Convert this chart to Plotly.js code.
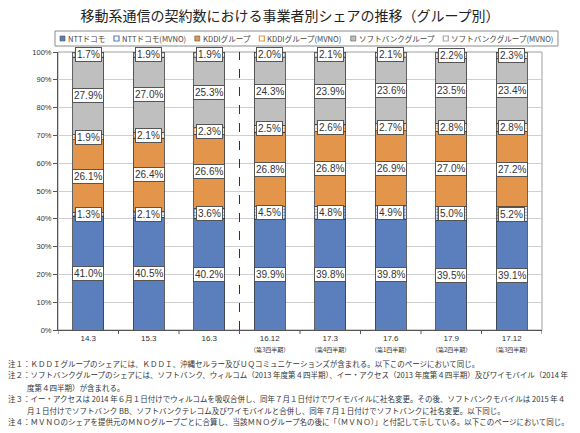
<!DOCTYPE html>
<html>
<head>
<meta charset="utf-8">
<script src="https://cdn.plot.ly/plotly-3.0.1.min.js"></script>
<style>html,body{margin:0;padding:0;background:#fff;}#chart{width:580px;height:433px;}</style>
</head>
<body>
<div id="chart"></div>
<script>
// ---- data ----
const categories = ['14.3','15.3','16.3','16.12','17.3','17.6','17.9','17.12'];
const subLabels = ['','','','（第3四半期）','（第4四半期）','（第1四半期）','（第2四半期）','（第3四半期）'];
const seriesNames = ['NTTドコモ','NTTドコモ(MVNO)','KDDIグループ','KDDIグループ(MVNO)','ソフトバンクグループ','ソフトバンクグループ(MVNO)'];
const ntt      = [41.0, 40.5, 40.2, 39.9, 39.8, 39.8, 39.5, 39.1];
const nttMvno  = [1.3, 2.1, 3.6, 4.5, 4.8, 4.9, 5.0, 5.2];
const kddi     = [26.1, 26.4, 26.6, 26.8, 26.8, 26.9, 27.0, 27.2];
const kddiMvno = [1.9, 2.1, 2.3, 2.5, 2.6, 2.7, 2.8, 2.8];
const sb       = [27.9, 27.0, 25.3, 24.3, 23.9, 23.6, 23.5, 23.4];
const sbMvno   = [1.7, 1.9, 1.9, 2.0, 2.1, 2.1, 2.2, 2.3];
const dividerAfter = '16.3';
const titleText = '移動系通信の契約数における事業者別シェアの推移（グループ別）';
const notes = [
  '注１：ＫＤＤＩグループのシェアには、ＫＤＤＩ、沖縄セルラー及びＵＱコミュニケーションズが含まれる。以下このページにおいて同じ。',
  '注２：ソフトバンクグループのシェアには、ソフトバンク、ウィルコム（2013 年度第４四半期）、イー・アクセス（2013 年度第４四半期）及びワイモバイル（2014 年',
  '度第４四半期）が含まれる。',
  '注３：イー・アクセスは 2014 年６月１日付けでウィルコムを吸収合併し、同年７月１日付けでワイモバイルに社名変更。その後、ソフトバンクモバイルは 2015 年４',
  '月１日付けでソフトバンク BB、ソフトバンクテレコム及びワイモバイルと合併し、同年７月１日付けでソフトバンクに社名変更。以下同じ。',
  '注４：ＭＶＮＯのシェアを提供元のＭＮＯグループごとに合算し、当該ＭＮＯグループ名の後に「（ＭＶＮＯ）」と付記して示している。以下このページにおいて同じ。'
];
const noteIndent = [false, false, true, false, true, false];

// ---- styles ----
const series = [ntt, nttMvno, kddi, kddiMvno, sb, sbMvno];
const colors = ['#5b7ebd','#5b7ebd','#e3964b','#e3964b','#bfbfbf','#a6a6a6'];
const patterned = [false, true, false, true, false, true];

const W = 580, H = 433;
const M = {l:58, r:38, t:52, b:103};
const pw = W - M.l - M.r, ph = H - M.t - M.b;
const fx = px => (px - M.l) / pw;
const fy = py => (H - M.b - py) / ph;

const latin = 'Liberation Sans, Arial, sans-serif';
const jp = 'Noto Sans CJK JP, sans-serif';

const idx = categories.map((c, i) => i);

const traces = series.map((vals, i) => ({
  type: 'bar',
  name: seriesNames[i],
  x: idx,
  y: vals,
  width: 0.52,
  marker: {
    color: patterned[i] ? '#ffffff' : colors[i],
    line: {color: '#3c3c3c', width: 0.8},
    pattern: patterned[i] ? {shape: '.', fgcolor: colors[i], bgcolor: '#ffffff', size: 3, solidity: 0.45} : {shape: ''}
  },
  hoverinfo: 'skip'
}));

// value labels at middle of each segment
const annotations = [];
categories.forEach((c, ci) => {
  let base = 0;
  series.forEach((vals) => {
    const v = vals[ci];
    annotations.push({
      x: ci, y: base + v / 2, xref: 'x', yref: 'y',
      text: v.toFixed(1) + '%', showarrow: false,
      font: {family: latin, size: 10, color: '#333'},
      bgcolor: '#ffffff', bordercolor: '#555', borderwidth: 1, borderpad: 1
    });
    base += v;
  });
});

// notes
const noteY = [363, 375, 387, 398, 410, 421];
notes.forEach((t, i) => {
  annotations.push({
    xref: 'paper', yref: 'paper', x: fx(noteIndent[i] ? 25 : 6), y: fy(noteY[i]),
    xanchor: 'left', yanchor: 'middle', showarrow: false, align: 'left',
    text: t, font: {family: jp, size: 7.5, color: '#333'}
  });
});

// sub labels under x ticks
categories.forEach((c, ci) => {
  if (!subLabels[ci]) return;
  annotations.push({xref: 'x', yref: 'paper', x: ci, y: fy(349), yanchor: 'middle', showarrow: false,
    text: subLabels[ci], font: {family: jp, size: 6, color: '#333'}});
});

// custom legend
const shapes = [];
const legFont = 7.6;
const ctx = document.createElement('canvas').getContext('2d');
ctx.font = legFont + "px 'Noto Sans CJK JP'";
const tw = seriesNames.map(n => ctx.measureText(n).width);
const box = {x0: 55, x1: 558, y0: 31, y1: 46};
shapes.push({type: 'rect', xref: 'paper', yref: 'paper', x0: fx(box.x0), x1: fx(box.x1), y0: fy(box.y1), y1: fy(box.y0),
  line: {color: '#8c8c8c', width: 1}, fillcolor: '#ffffff', layer: 'above'});
const sym = 5, symGap = 2;
const itemW = tw.map(w => sym + symGap + w);
const pad = 5;
const gap = ((box.x1 - box.x0 - 2 * pad) - itemW.reduce((a, b) => a + b, 0)) / (seriesNames.length - 1);
let cx = box.x0 + pad;
const cy = (box.y0 + box.y1) / 2;
seriesNames.forEach((n, i) => {
  shapes.push({type: 'rect', xref: 'paper', yref: 'paper', layer: 'above',
    x0: fx(cx), x1: fx(cx + sym), y0: fy(cy + sym / 2), y1: fy(cy - sym / 2),
    fillcolor: patterned[i] ? '#ffffff' : colors[i], line: {color: patterned[i] ? colors[i] : '#555', width: patterned[i] ? 1.2 : 0.6}});
  annotations.push({xref: 'paper', yref: 'paper', x: fx(cx + sym + symGap), y: fy(cy),
    xanchor: 'left', yanchor: 'middle', showarrow: false, text: n,
    font: {family: jp, size: legFont, color: '#444'}, borderpad: 0});
  cx += itemW[i] + gap;
});

// divider dashed line
const divX = categories.indexOf(dividerAfter) + 0.5;
shapes.push({type: 'line', xref: 'x', yref: 'y', x0: divX, x1: divX, y0: 0, y1: 100,
  line: {color: '#333', width: 1, dash: 'dash'}, layer: 'above'});
// plot frame (light)
shapes.push({type: 'rect', xref: 'paper', yref: 'paper', x0: 0, x1: 1, y0: 0, y1: 1,
  line: {color: '#a0a0a0', width: 1}, layer: 'below'});
// x ticks at category boundaries
for (let b = 0; b <= categories.length; b++) {
  shapes.push({type: 'line', xref: 'x', yref: 'paper', x0: b - 0.5, x1: b - 0.5, y0: 0, y1: fy(H - M.b + 4),
    line: {color: '#555', width: 1}});
}

const layout = {
  width: W, height: H,
  margin: M,
  paper_bgcolor: '#ffffff', plot_bgcolor: '#ffffff',
  barmode: 'stack',
  showlegend: false,
  title: {text: titleText, x: 0.5, xref: 'container', y: 1 - 16 / H, yref: 'container', yanchor: 'middle',
    font: {family: jp, size: 14, color: '#222'}},
  xaxis: {
    type: 'linear', range: [-0.5, categories.length - 0.5],
    tickmode: 'array', tickvals: idx, ticktext: categories, tickangle: 0,
    ticks: '', ticklen: 4,
    showline: true, linecolor: '#555', linewidth: 1, showgrid: false, zeroline: false,
    tickfont: {family: latin, size: 8, color: '#333'}, fixedrange: true
  },
  yaxis: {
    range: [0, 100], dtick: 10, ticksuffix: '%',
    ticks: 'outside', ticklen: 4, tickcolor: '#555',
    showline: true, linecolor: '#555', linewidth: 1,
    showgrid: true, gridcolor: '#cfcfcf', gridwidth: 1, zeroline: false,
    tickfont: {family: latin, size: 7.5, color: '#333'}, fixedrange: true
  },
  annotations: annotations,
  shapes: shapes
};

Plotly.newPlot('chart', traces, layout, {staticPlot: true, displayModeBar: false});
</script>
</body>
</html>
